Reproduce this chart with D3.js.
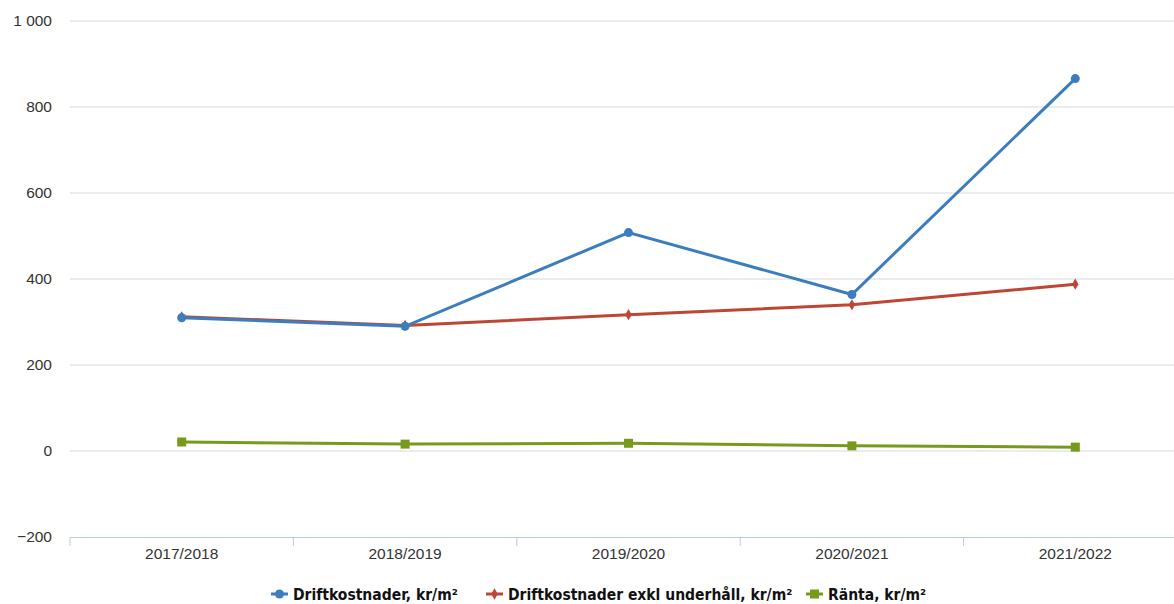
<!DOCTYPE html>
<html>
<head>
<meta charset="utf-8">
<script src="https://cdn.jsdelivr.net/npm/d3@7"></script>
<style>
  body { margin: 0; background: #fff; }
  .tick text { font-family: "Liberation Sans", Arial, sans-serif; font-size: 15.5px; fill: #333; }
  .legend text { font-family: "Liberation Sans Narrow", "DejaVu Sans Condensed", sans-serif; font-size: 15.5px; font-weight: bold; fill: #111; }
</style>
</head>
<body>
<div id="chart"></div>
<script>
(function(){
  'use strict';

  // data
  var years = ['2017/2018', '2018/2019', '2019/2020', '2020/2021', '2021/2022'];
  var drift = [310, 290, 508, 364, 866];
  var driftExkl = [312, 292, 317, 340, 388];
  var ranta = [21, 16, 18, 12, 9];
  var yTicks = [-200, 0, 200, 400, 600, 800, 1000];

  var series = [
    {name: 'Driftkostnader, kr/m²', values: drift, color: '#3b7dbd', marker: 'circle'},
    {name: 'Driftkostnader exkl underhåll, kr/m²', values: driftExkl, color: '#bf4535', marker: 'diamond'},
    {name: 'Ränta, kr/m²', values: ranta, color: '#779a1d', marker: 'square'}
  ];

  var w = 1174, h = 604;
  var svg = d3.select('#chart').append('svg')
    .attr('width', w)
    .attr('height', h);

  var x = d3.scaleBand()
    .domain(years)
    .range([70, 70 + 5 * 223.4]);

  var y = d3.scaleLinear()
    .domain([-200, 1000])
    .range([537, 21]);

  // gridlines
  svg.append('g')
    .selectAll('line')
    .data(yTicks.slice(1))
    .enter()
    .append('line')
    .attr('x1', 70)
    .attr('x2', w)
    .attr('y1', function(d) { return y(d); })
    .attr('y2', function(d) { return y(d); })
    .style('stroke', '#d3d8e2')
    .style('stroke-width', 1);

  var yAxis = d3.axisLeft(y)
    .tickValues(yTicks)
    .tickSize(0)
    .tickPadding(0)
    .tickFormat(function(d) {
      if (d < 0) return '\u2212' + Math.abs(d);
      if (d >= 1000) return '1 000';
      return d;
    });

  var gy = svg.append('g')
    .attr('transform', 'translate(52, 0)')
    .call(yAxis);
  gy.select('.domain').remove();

  var xAxis = d3.axisBottom(x)
    .tickSize(0)
    .tickPadding(11);

  var gx = svg.append('g')
    .attr('transform', 'translate(0, 537)')
    .call(xAxis);
  gx.select('.domain').style('stroke', '#b9cde3');

  // category separators
  svg.append('g')
    .selectAll('line')
    .data(years)
    .enter()
    .append('line')
    .attr('x1', function(d) { return x(d); })
    .attr('x2', function(d) { return x(d); })
    .attr('y1', 537)
    .attr('y2', 546)
    .style('stroke', '#b9cde3');

  var line = d3.line()
    .x(function(d, i) { return x(years[i]) + x.bandwidth() / 2; })
    .y(function(d) { return y(d); });

  function drawMarker(g, type, cx, cy, color, s) {
    if (type === 'circle') {
      g.append('circle').attr('cx', cx).attr('cy', cy).attr('r', s).style('fill', color);
    } else if (type === 'diamond') {
      g.append('path')
        .attr('d', d3.symbol().type(d3.symbolDiamond).size(s * s * 3))
        .attr('transform', 'translate(' + cx + ',' + cy + ')')
        .style('fill', color);
    } else {
      g.append('rect').attr('x', cx - s).attr('y', cy - s).attr('width', 2 * s).attr('height', 2 * s)
        .style('fill', color);
    }
  }

  // draw in reverse so blue sits on top
  series.slice().reverse().forEach(function(s) {
    var g = svg.append('g');
    g.append('path')
      .datum(s.values)
      .attr('d', line)
      .style('fill', 'none')
      .style('stroke', s.color)
      .style('stroke-width', 3);
    s.values.forEach(function(v, i) {
      drawMarker(g, s.marker, x(years[i]) + x.bandwidth() / 2, y(v), s.color, s.marker === 'diamond' ? 3.5 : 4.5);
    });
  });

  // legend
  var legendX = [271, 486, 806];
  var legend = svg.append('g').attr('class', 'legend');
  series.forEach(function(s, i) {
    var lg = legend.append('g').attr('transform', 'translate(' + legendX[i] + ', 594)');
    lg.append('line')
      .attr('x1', 0).attr('x2', 17)
      .attr('y1', 0).attr('y2', 0)
      .style('stroke', s.color)
      .style('stroke-width', 3);
    drawMarker(lg, s.marker, 8.5, 0, s.color, s.marker === 'diamond' ? 3.5 : 4.5);
    lg.append('text')
      .attr('x', 22)
      .attr('y', 5.5)
      .text(s.name);
  });

}());
</script>
</body>
</html>
